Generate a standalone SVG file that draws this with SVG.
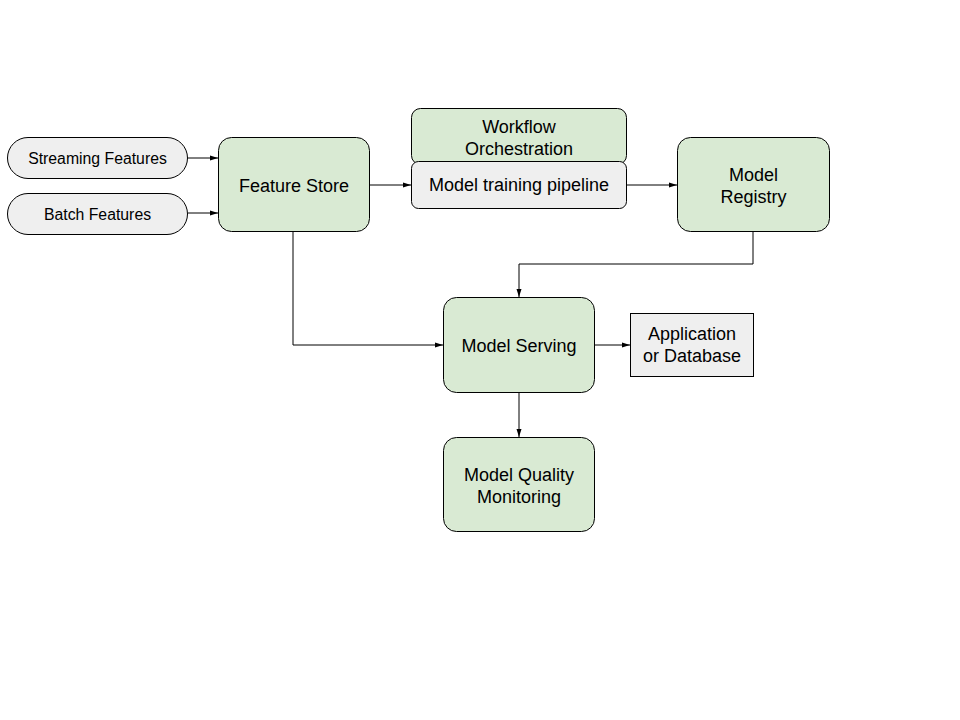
<svg xmlns="http://www.w3.org/2000/svg" width="960" height="720" viewBox="0 0 960 720">
<style>
.g{fill:#d9ead3;stroke:#000;stroke-width:1}
.w{fill:#efefef;stroke:#000;stroke-width:1}
.t{font-family:"Liberation Sans",Arial,sans-serif;font-size:18px;fill:#000;text-anchor:middle}
.s{font-family:"Liberation Sans",Arial,sans-serif;font-size:15.8px;fill:#000;text-anchor:middle}
.c{fill:none;stroke:#000;stroke-width:1;marker-end:url(#a)}
</style>
<defs>
<marker id="a" viewBox="0 0 8 8" refX="8" refY="4" markerWidth="8" markerHeight="8" markerUnits="userSpaceOnUse" orient="auto">
<path d="M0,1.5 L8,4 L0,6.5 Z" fill="#000"/>
</marker>
</defs>
<rect width="960" height="720" fill="#fff"/>
<g id="connectors">
<path class="c" d="M188,158 H218"/>
<path class="c" d="M188,213 H218"/>
<path class="c" d="M370,185 H411"/>
<path class="c" d="M627,185 H677"/>
<path class="c" d="M753,232 V264 H519 V297"/>
<path class="c" d="M293,231 V345 H443"/>
<path class="c" d="M594,345 H630"/>
<path class="c" d="M519,393 V437"/>
</g>
<g id="streaming">
<rect class="w" x="7.5" y="137.5" width="180" height="41" rx="20.5"/>
<text class="s" x="97.5" y="164">Streaming Features</text>
</g>
<g id="batch">
<rect class="w" x="7.5" y="193.5" width="180" height="41" rx="20.5"/>
<text class="s" x="97.5" y="219.5">Batch Features</text>
</g>
<g id="featurestore">
<rect class="g" x="218.5" y="137.5" width="151" height="94" rx="13"/>
<text class="t" x="294" y="191.5">Feature Store</text>
</g>
<g id="workflow">
<rect class="g" x="411.5" y="108.5" width="215" height="56" rx="9"/>
<text class="t" x="519" y="133">Workflow</text>
<text class="t" x="519" y="155">Orchestration</text>
</g>
<g id="training">
<rect class="w" x="411.5" y="161.5" width="215" height="47" rx="7"/>
<text class="t" x="519" y="191">Model training pipeline</text>
</g>
<g id="registry">
<rect class="g" x="677.5" y="137.5" width="152" height="94" rx="13"/>
<text class="t" x="753.5" y="181">Model</text>
<text class="t" x="753.5" y="203">Registry</text>
</g>
<g id="serving">
<rect class="g" x="443.5" y="297.5" width="151" height="95" rx="13"/>
<text class="t" x="519" y="351.5">Model Serving</text>
</g>
<g id="app">
<rect class="w" x="630.5" y="313.5" width="123" height="63"/>
<text class="t" x="692" y="340">Application</text>
<text class="t" x="692" y="362">or Database</text>
</g>
<g id="monitoring">
<rect class="g" x="443.5" y="437.5" width="151" height="94" rx="13"/>
<text class="t" x="519" y="481">Model Quality</text>
<text class="t" x="519" y="503">Monitoring</text>
</g>
</svg>
